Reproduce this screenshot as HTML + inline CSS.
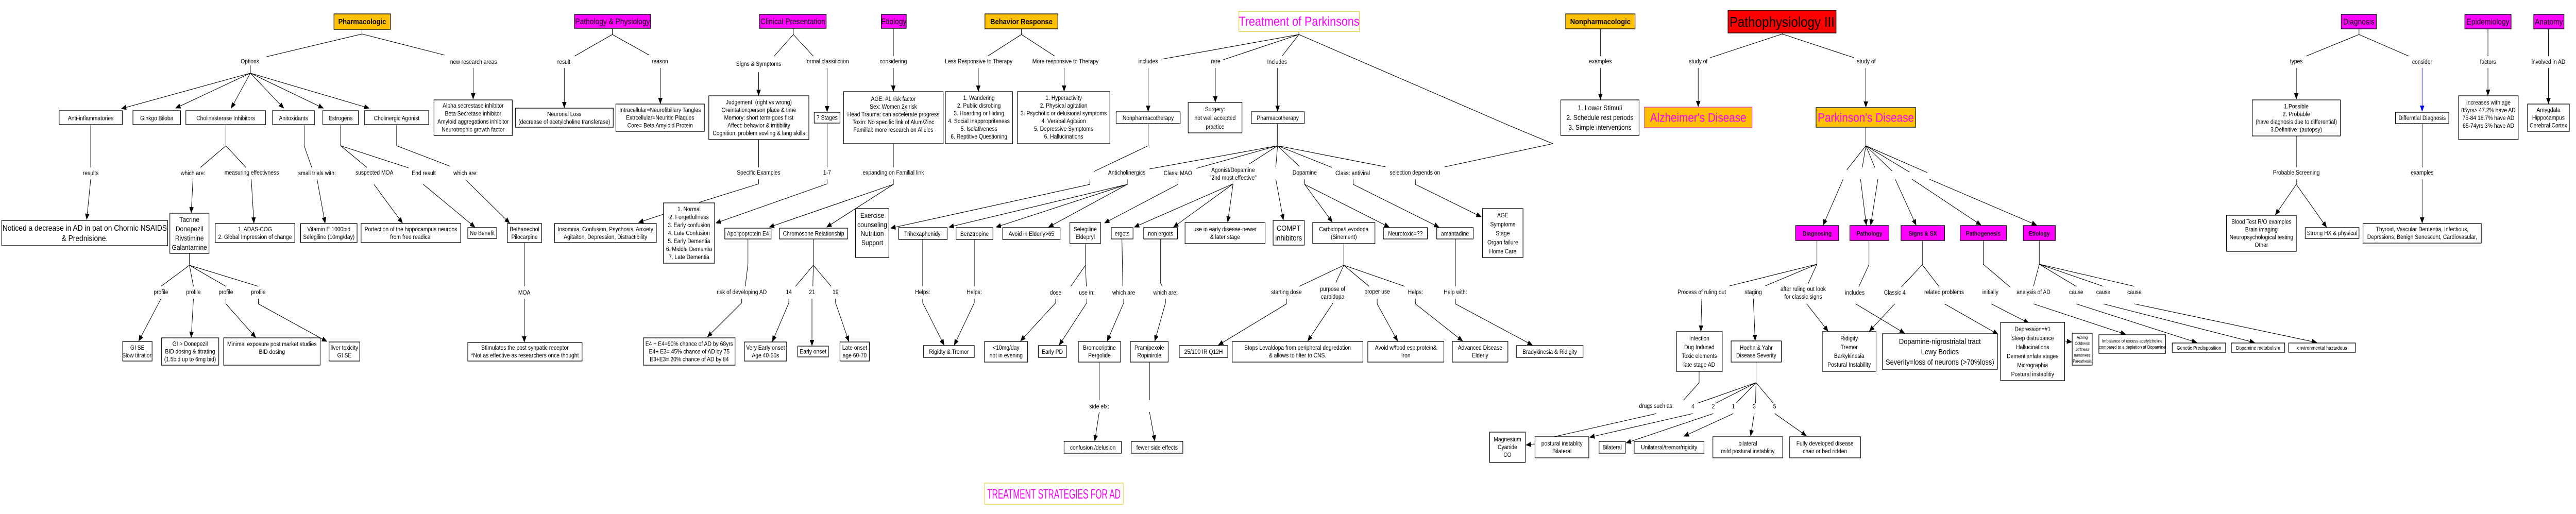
<!DOCTYPE html>
<html><head><meta charset="utf-8">
<style>
html,body{margin:0;padding:0;background:#fff;width:100%;height:100%;overflow:hidden;}
svg{display:block;position:fixed;left:0;top:0;width:100vw;height:100vh;}
text{font-family:"Liberation Sans",Arial,sans-serif;font-size:12px;text-anchor:middle;fill:#000;}
.b{fill:#fff;stroke:#000;stroke-width:1.3;}
.y{fill:#FFC000;stroke:#000;stroke-width:1.3;}
.m{fill:#FF00FF;stroke:#000;stroke-width:1.3;}
.l{fill:none;stroke:#000;stroke-width:1.1;}
.a{fill:none;stroke:#000;stroke-width:1.1;marker-end:url(#ar);}
.lab{font-size:12px;}
</style></head><body>
<svg viewBox="0 0 5793 998" preserveAspectRatio="none" xmlns="http://www.w3.org/2000/svg" overflow="hidden">
<defs>
<marker id="ar" markerWidth="12" markerHeight="10" refX="11" refY="5" orient="auto" markerUnits="userSpaceOnUse"><path d="M0,0 L12,5 L0,10z" fill="#000"/></marker>
<marker id="ab" markerWidth="12" markerHeight="10" refX="11" refY="5" orient="auto" markerUnits="userSpaceOnUse"><path d="M0,0 L12,5 L0,10z" fill="#0000ff"/></marker>
</defs>
<rect width="5793" height="998" fill="#fff"/>

<g>
<path class="l" d="M814,57V66L600,110M814,66L1000,107"/>
<path class="l" d="M563,127V142"/>
<path class="a" d="M563,142L273,211"/><path class="a" d="M563,142L395,210"/><path class="a" d="M563,142L520,210"/><path class="a" d="M563,142L638,210"/><path class="a" d="M563,142L727,210"/><path class="a" d="M563,142L830,210"/>
<path class="a" d="M1064,132V192"/>
<path class="l" d="M204,243V325"/><path class="a" d="M204,348L195,426"/>
<path class="l" d="M508,243V283L451,325M508,283L553,325"/>
<path class="a" d="M434,348L430,413"/><path class="a" d="M565,348L571,433"/>
<path class="l" d="M684,243V283L701,325"/><path class="a" d="M713,348L731,433"/>
<path class="l" d="M766,243V283L825,325M766,283L919,326"/>
<path class="a" d="M841,358L905,433"/><path class="a" d="M952,358L1068,441"/>
<path class="l" d="M892,243V283L1013,323"/><path class="a" d="M1047,349L1146,433"/>
<path class="l" d="M1179,471V556"/><path class="a" d="M1179,580V664"/>
<path class="l" d="M426,492V515L362,556M426,515L435,556M426,515L508,556M426,515L581,556"/>
<path class="a" d="M362,580L312,662"/><path class="a" d="M435,580L430,655"/><path class="a" d="M508,580V590L575,655"/><path class="a" d="M581,580V590L735,663"/>
<path class="a" d="M1492,416L1436,432"/>
<path class="l" d="M1377,55V67L1292,109M1377,67L1460,107"/>
<path class="a" d="M1269,132V209"/><path class="a" d="M1485,132V201"/>
<path class="l" d="M1784,55V67L1741,109M1784,67L1829,109"/>
<path class="a" d="M1706,140V185"/><path class="a" d="M1860,132V217"/>
<path class="l" d="M1706,271V325M1706,348V357L1572,393"/>
<path class="l" d="M1860,240V325"/><path class="a" d="M1860,348V357L1610,433"/>
<path class="l" d="M2009,55V109"/><path class="a" d="M2009,132V177"/>
<path class="l" d="M2009,279V325"/><path class="a" d="M2009,348V358L1730,441"/><path class="a" d="M2009,358L1859,441"/>
<path class="l" d="M2297,56V67L2221,109M2297,67L2372,109"/>
<path class="a" d="M2200,132V177"/><path class="a" d="M2393,132V177"/>
<path class="l" d="M1682,464V512L1676,556"/><path class="a" d="M1668,580V588L1591,654"/>
<path class="l" d="M1829,464V515L1789,556M1829,515L1828,556M1829,515L1869,556"/>
<path class="a" d="M1774,580V588L1737,663"/><path class="a" d="M1826,580V671"/><path class="a" d="M1879,580V588L1909,663"/>
<path class="a" d="M2535,348V358L2134,441"/><path class="a" d="M2535,358L2240,441"/><path class="a" d="M2535,358L2358,441"/>
<path class="l" d="M2582,240V283L2460,333"/><path class="a" d="M2451,348V358L2003,443"/>
<path class="l" d="M2921,61V67L2612,115M2921,67L2751,116M2921,67L2884,108M2921,67L3400,246L3492,279L3249,324"/>
<path class="a" d="M2582,132V216"/><path class="a" d="M2733,132V198"/><path class="a" d="M2873,132V216"/>
<path class="l" d="M2873,240V283L2585,328M2873,283L2690,327M2873,283L2810,318M2873,283L2869,325M2873,283L2922,323M2873,283L2995,325M2873,283L3116,324"/>
<path class="a" d="M2649,348V358L2484,433"/>
<path class="a" d="M2773,357L2551,441"/><path class="a" d="M2773,357L2639,441"/><path class="a" d="M2773,357L2761,431"/>
<path class="a" d="M2869,348L2886,427"/>
<path class="a" d="M2934,348V358L2996,431"/><path class="a" d="M2934,358L3124,441"/>
<path class="a" d="M3043,348V358L3236,441"/><path class="a" d="M3183,348V358L3331,421"/>
<path class="l" d="M2075,465V556"/><path class="a" d="M2075,580V588L2123,670"/>
<path class="l" d="M2191,465V556"/><path class="a" d="M2191,580V588L2146,670"/>
<path class="l" d="M2441,473V515L2408,556M2441,515L2443,556"/>
<path class="a" d="M2374,580V588L2295,662"/><path class="a" d="M2444,580V588L2382,670"/>
<path class="l" d="M2523,464L2525,556"/><path class="a" d="M2527,580V588L2490,662"/>
<path class="l" d="M2610,464V550L2614,556"/><path class="a" d="M2621,580V588L2597,662"/>
<path class="l" d="M2472,703V777"/><path class="a" d="M2472,800L2462,856"/>
<path class="l" d="M2585,703V777"/><path class="a" d="M2585,800L2597,856"/>
<path class="l" d="M3022,473V515L2922,556M3022,515L3004,549M3022,515L3079,556M3022,515L3159,556"/>
<path class="a" d="M2893,580V590L2740,670"/><path class="a" d="M2998,588L2941,662"/><path class="a" d="M3097,580V590L3143,662"/><path class="a" d="M3183,580V590L3289,662"/>
<path class="l" d="M3273,464V556"/><path class="a" d="M3273,580V590L3446,670"/>
<path class="l" d="M4008,64V66L3846,112M4008,66L4169,112"/>
<path class="a" d="M3819,132V207"/><path class="a" d="M4196,132V208"/>
<path class="l" d="M3599,56V109"/><path class="a" d="M3599,132V193"/>
<path class="l" d="M4196,247V283L4153,330M4196,283L4188,325M4196,283L4216,325M4196,283L4255,332M4196,283L4294,334M4196,283L4334,335"/>
<path class="a" d="M4145,348L4100,437"/><path class="a" d="M4184,348L4197,437"/><path class="a" d="M4223,348L4207,437"/><path class="a" d="M4262,348L4309,437"/><path class="a" d="M4300,348L4455,437"/><path class="a" d="M4339,348L4580,437"/>
<path class="l" d="M4086,467V513L3890,555M4086,513L3970,555M4086,513L4066,551"/>
<path class="a" d="M3827,580L3825,643"/><path class="a" d="M3943,580L3947,661"/><path class="a" d="M4063,590L4111,643"/>
<path class="l" d="M4203,468V514L4180,557"/><path class="a" d="M4173,590L4283,647"/>
<path class="l" d="M4323,468V514L4276,557M4323,514L4361,557"/>
<path class="a" d="M4261,590L4204,643"/><path class="a" d="M4373,590L4493,649"/>
<path class="l" d="M4460,467V513L4520,557"/><path class="a" d="M4478,590L4562,627"/>
<path class="l" d="M4586,467V513L4573,556M4586,513L4669,556M4586,513L4730,556M4586,513L4800,556"/>
<path class="a" d="M4573,590L4780,649"/><path class="a" d="M4669,590L4940,665"/><path class="a" d="M4730,590L5070,665"/><path class="a" d="M4800,590L5210,665"/>
<path class="a" d="M4643,662L4659,664"/>
<path class="l" d="M3949,703V743L3817,783M3949,743L3858,783M3949,743L3904,783M3949,743L3948,783M3949,743L3988,783"/>
<path class="a" d="M3807,803L3575,849"/><path class="a" d="M3853,803L3657,860"/><path class="a" d="M3898,803L3787,847"/><path class="a" d="M3945,803L3937,846"/><path class="a" d="M3991,803L4062,846"/>
<path class="l" d="M3821,721V743L3786,777"/><path class="l" d="M3725,803L3495,848"/><path class="a" d="M3452,862L3432,864"/>
<path class="l" d="M5305,56V67L5186,109M5305,67L5417,109"/>
<path class="a" d="M5164,132V192"/>
<path d="M5447,132V216" fill="none" stroke="#0000ff" stroke-width="1.1" marker-end="url(#ab)"/>
<path class="l" d="M5164,264V325"/><path class="a" d="M5164,348V358L5117,417"/><path class="a" d="M5164,358L5232,441"/>
<path class="l" d="M5447,240V325"/><path class="a" d="M5447,348V433"/>
<path class="l" d="M5595,56V109"/><path class="a" d="M5595,132V185"/>
<path class="l" d="M5731,56V109"/><path class="a" d="M5731,132V201"/>
</g>

<g class="lab">
<text x="562" y="123">Options</text><text x="1065" y="124">new research areas</text>
<text x="204" y="340">results</text><text x="434" y="340">which are:</text><text x="566" y="339">measuring effectivness</text>
<text x="713" y="340">small trials with:</text><text x="842" y="339">suspected MOA</text><text x="953" y="340">End result</text>
<text x="1047" y="340">which are:</text><text x="1179" y="572">MOA</text>
<text x="362" y="571">profile</text><text x="435" y="571">profile</text><text x="508" y="571">profile</text><text x="581" y="571">profile</text>
<text x="1268" y="124">result</text><text x="1484" y="123">reason</text>
<text x="1706" y="128">Signs &amp; Symptoms</text><text x="1860" y="123">formal classifiction</text><text x="2009" y="123">considering</text>
<text x="1706" y="339">Specific Examples</text><text x="1860" y="339">1-7</text><text x="2009" y="339">expanding on Familial link</text>
<text x="2201" y="123">Less Responsive to Therapy</text><text x="2396" y="123">More responsive to Therapy</text>
<text x="1668" y="571">risk of developing AD</text><text x="1774" y="571">14</text><text x="1826" y="571">21</text><text x="1879" y="571">19</text>
<text x="2075" y="571">Helps:</text><text x="2191" y="571">Helps:</text><text x="2374" y="572">dose</text><text x="2444" y="572">use in:</text>
<text x="2527" y="572">which are</text><text x="2621" y="572">which are:</text><text x="2472" y="793">side efx:</text>
<text x="2582" y="123">includes</text><text x="2734" y="123">rare</text><text x="2872" y="124">Includes</text>
<text x="2534" y="339">Anticholinergics</text><text x="2649" y="340">Class: MAO</text>
<text x="2773" y="334">Agonist/Dopamine</text><text x="2773" y="349">"2nd most effective"</text>
<text x="2934" y="339">Dopamine</text><text x="3042" y="340">Class: antiviral</text><text x="3182" y="339">selection depends on</text>
<text x="2893" y="571">starting dose</text><text x="2997" y="565">purpose of</text><text x="2997" y="580">carbidopa</text>
<text x="3097" y="570">proper use</text><text x="3183" y="571">Helps:</text><text x="3273" y="571">Help with:</text>
<text x="3599" y="123">examples</text><text x="3819" y="123">study of</text><text x="4197" y="123">study of</text>
<text x="3827" y="571">Process of ruling out</text><text x="3943" y="571">staging</text>
<text x="4055" y="565">after ruling out look</text><text x="4055" y="580">for classic signs</text>
<text x="4171" y="572">includes</text><text x="4261" y="572">Classic 4</text><text x="4372" y="571">related problems</text>
<text x="4476" y="571">initially</text><text x="4573" y="571">analysis of AD</text><text x="4669" y="571">cause</text><text x="4730" y="571">cause</text><text x="4800" y="571">cause</text>
<text x="3725" y="792">drugs such as:</text><text x="3807" y="793">4</text><text x="3853" y="793">2</text><text x="3898" y="793">1</text><text x="3945" y="793">3</text><text x="3991" y="793">5</text>
<text x="5164" y="123">types</text><text x="5447" y="124">consider</text><text x="5164" y="339">Probable Screening</text><text x="5447" y="339">examples</text>
<text x="5595" y="124">factors</text><text x="5731" y="124">involved in AD</text>
</g>

<rect class="y" x="751" y="27" width="127" height="30"/><text x="814.5" y="47" style="font-size:15px;font-weight:bold">Pharmacologic</text>
<g style="font-size:14px">
<rect class="b" x="133" y="215" width="142" height="27"/><text x="204" y="233.5">Anti-inflammatories</text>
<rect class="b" x="299" y="215" width="107" height="27"/><text x="352.5" y="233.5">Ginkgo Biloba</text>
<rect class="b" x="418" y="215" width="179" height="27"/><text x="507.5" y="233.5">Cholinesterase Inhibitors</text>
<rect class="b" x="613" y="215" width="94" height="27"/><text x="660" y="233.5">Anitoxidants</text>
<rect class="b" x="726" y="215" width="80" height="27"/><text x="766" y="233.5">Estrogens</text>
<rect class="b" x="820" y="215" width="144" height="27"/><text x="892" y="233.5">Cholinergic Agonist</text>
</g>
<rect class="b" x="4" y="428" width="373" height="49"/><text style="font-size:16px"><tspan x="190.5" y="448">Noticed a decrease in AD in pat on Chornic NSAIDS</tspan><tspan x="190.5" y="468">&amp; Prednisione.</tspan></text>
<rect class="b" x="382" y="414" width="88" height="78"/><text style="font-size:14px"><tspan x="426" y="431">Tacrine</tspan><tspan x="426" y="449">Donepezil</tspan><tspan x="426" y="467">Rivstimine</tspan><tspan x="426" y="485">Galantamine</tspan></text>
<g style="font-size:11px">
<rect class="b" x="484" y="434" width="179" height="37"/><text><tspan x="573.5" y="449">1. ADAS-COG</tspan><tspan x="573.5" y="464">2. Global Impression of change</tspan></text>
<rect class="b" x="676" y="434" width="127" height="37"/><text><tspan x="739.5" y="449">Vitamin E 1000bid</tspan><tspan x="739.5" y="464">Selegiline (10mg/day)</tspan></text>
<rect class="b" x="812" y="434" width="224" height="37"/><text><tspan x="924" y="449">Portection of the hippocampus neurons</tspan><tspan x="924" y="464">from free readical</tspan></text>
<rect class="b" x="1052" y="442" width="65" height="21"/><text x="1084.5" y="456.5">No Benefit</text>
<rect class="b" x="1141" y="434" width="77" height="37"/><text><tspan x="1179.5" y="449">Bethanechol</tspan><tspan x="1179.5" y="464">Pilocarpine</tspan></text>
<rect class="b" x="1247" y="434" width="229" height="37"/><text><tspan x="1361.5" y="449">Insomnia, Confusion, Psychosis, Anxiety</tspan><tspan x="1361.5" y="464">Agitaiton, Depression, Distractibility</tspan></text>
<rect class="b" x="1492" y="394" width="115" height="117"/><text style="font-size:12px"><tspan x="1549.5" y="410">1. Normal</tspan><tspan x="1549.5" y="425.5">2. Forgetfullness</tspan><tspan x="1549.5" y="441">3. Early confusion</tspan><tspan x="1549.5" y="456.5">4. Late Confusion</tspan><tspan x="1549.5" y="472">5. Early Dementia</tspan><tspan x="1549.5" y="487.5">6. Middle Dementia</tspan><tspan x="1549.5" y="503">7. Late Dementia</tspan></text>
<rect class="b" x="976" y="194" width="176" height="69"/><text><tspan x="1064" y="209">Alpha secrestase inhibitor</tspan><tspan x="1064" y="224.5">Beta Secretase inhibitor</tspan><tspan x="1064" y="240">Amyloid aggregations inhibitor</tspan><tspan x="1064" y="255.5">Neurotrophic growth factor</tspan></text>
<rect class="b" x="1159" y="210" width="220" height="37"/><text style="font-size:12px"><tspan x="1269" y="225.5">Neuronal Loss</tspan><tspan x="1269" y="240.5">(decrease of acetylcholine transferase)</tspan></text>
<rect class="b" x="1385" y="202" width="199" height="53"/><text><tspan x="1484.5" y="217.5">Intracellular=Neurofibillary Tangles</tspan><tspan x="1484.5" y="232.5">Extrcellular=Neuritic Plaques</tspan><tspan x="1484.5" y="247.5">Core= Beta Amyloid Protein</tspan></text>
<rect class="b" x="1594" y="186" width="225" height="85"/><text><tspan x="1706.5" y="202.5">Judgement: (right vs wrong)</tspan><tspan x="1706.5" y="217.5">Oreintation:person place &amp; time</tspan><tspan x="1706.5" y="232.5">Memory: short term goes first</tspan><tspan x="1706.5" y="247.5">Affect: behavior &amp; irritibility</tspan><tspan x="1706.5" y="262.5">Cognition: problem sovling &amp; lang skills</tspan></text>
<rect class="b" x="1897" y="178" width="224" height="101"/><text><tspan x="2009" y="196">AGE: #1 risk factor</tspan><tspan x="2009" y="211">Sex: Women 2x risk</tspan><tspan x="2009" y="226">Head Trauma: can accelerate progress</tspan><tspan x="2009" y="241">Toxin: No specific link of Alum/Zinc</tspan><tspan x="2009" y="256">Familial: more research on Alleles</tspan></text>
<rect class="b" x="2126" y="178" width="151" height="101"/><text><tspan x="2201.5" y="194">1. Wandering</tspan><tspan x="2201.5" y="209">2. Public disrobing</tspan><tspan x="2201.5" y="224">3. Hoarding or Hiding</tspan><tspan x="2201.5" y="239">4. Social Inappropriteness</tspan><tspan x="2201.5" y="254">5. Isolativeness</tspan><tspan x="2201.5" y="269">6. Reptitive Questioning</tspan></text>
<rect class="b" x="2288" y="178" width="208" height="101"/><text><tspan x="2392" y="194">1. Hyperactivity</tspan><tspan x="2392" y="209">2. Physical agitation</tspan><tspan x="2392" y="224">3. Psychotic or delusional symptoms</tspan><tspan x="2392" y="239">4. Verabal Agitaion</tspan><tspan x="2392" y="254">5. Depressive Symptoms</tspan><tspan x="2392" y="269">6. Hallucinations</tspan></text>
<rect class="b" x="276" y="663" width="66" height="38"/><text><tspan x="309" y="679">GI SE</tspan><tspan x="309" y="694">Slow titration</tspan></text>
<rect class="b" x="363" y="656" width="129" height="53"/><text><tspan x="427.5" y="671.5">GI &gt; Donepezil</tspan><tspan x="427.5" y="686.5">BID dosing &amp; titrating</tspan><tspan x="427.5" y="701.5">(1.5bid up to 6mg bid)</tspan></text>
<rect class="b" x="503" y="656" width="217" height="53"/><text><tspan x="611.5" y="672">Minimal exposure post market studies</tspan><tspan x="611.5" y="687">BID dosing</tspan></text>
<rect class="b" x="740" y="664" width="69" height="37"/><text><tspan x="774.5" y="679">liver toxicity</tspan><tspan x="774.5" y="694">GI SE</tspan></text>
<rect class="b" x="1052" y="665" width="257" height="36"/><text><tspan x="1180.5" y="679">Stimulates the post synpatic receptor</tspan><tspan x="1180.5" y="694">*Not as effective as researchers once thought</tspan></text>
<rect class="b" x="1447" y="656" width="206" height="53"/><text><tspan x="1550" y="671.5">E4 + E4=90% chance of AD by 68yrs</tspan><tspan x="1550" y="686.5">E4+ E3= 45% chance of AD by 75</tspan><tspan x="1550" y="701.5">E3+E3= 20% chance of AD by 84</tspan></text>
<rect class="b" x="1674" y="664" width="95" height="37"/><text style="font-size:12px"><tspan x="1721.5" y="679">Very Early onset</tspan><tspan x="1721.5" y="694">Age 40-50s</tspan></text>
<rect class="b" x="1794" y="672" width="69" height="21"/><text x="1828.5" y="686.5" style="font-size:12px">Early onset</text>
<rect class="b" x="1889" y="664" width="66" height="37"/><text style="font-size:12px"><tspan x="1922" y="679">Late onset</tspan><tspan x="1922" y="694">age 60-70</tspan></text>
</g>
<rect class="m" x="1292" y="28" width="171" height="27"/><text x="1377.5" y="47" style="font-size:16px">Pathology &amp; Physiology</text>
<rect class="m" x="1708" y="28" width="150" height="27"/><text x="1783" y="47" style="font-size:16px">Clinical Presentation</text>
<rect class="m" x="1982" y="28" width="56" height="27"/><text x="2010" y="47" style="font-size:16px">Etiology</text>
<rect class="y" x="2215" y="27" width="164" height="29"/><text x="2297" y="47" style="font-size:15px;font-weight:bold">Behavior Response</text>
<rect class="b" x="1831" y="218" width="58" height="21"/><text x="1860" y="232.5">7 Stages</text>
<rect class="b" x="1630" y="443" width="104" height="21"/><text x="1682" y="457.5">Apolipoprotein E4</text>
<rect class="b" x="1753" y="443" width="153" height="21"/><text x="1829.5" y="457.5">Chromosone Relationship</text>
<rect class="b" x="1924" y="405" width="75" height="95"/><text style="font-size:14px"><tspan x="1961.5" y="423">Exercise</tspan><tspan x="1961.5" y="441">counseling</tspan><tspan x="1961.5" y="458">Nutrition</tspan><tspan x="1961.5" y="476">Support</tspan></text>
<g style="font-size:13px">
<rect class="b" x="2021" y="442" width="109" height="23"/><text x="2075.5" y="458">Trihexaphenidyl</text>
<rect class="b" x="2150" y="442" width="83" height="23"/><text x="2191.5" y="458">Benztropine</text>
<rect class="b" x="2255" y="442" width="129" height="23"/><text x="2319.5" y="458">Avoid in Elderly&gt;65</text>
<rect class="b" x="2406" y="432" width="69" height="41"/><text style="font-size:12px"><tspan x="2440.5" y="449">Selegiline</tspan><tspan x="2440.5" y="464">Eldepryl</tspan></text>
<rect class="b" x="2499" y="442" width="49" height="22"/><text x="2523.5" y="457.5">ergots</text>
<rect class="b" x="2572" y="442" width="76" height="22"/><text x="2610" y="457.5">non ergots</text>
<rect class="b" x="2665" y="432" width="180" height="41"/><text style="font-size:12px"><tspan x="2755" y="449">use in early disease-newer</tspan><tspan x="2755" y="464">&amp; later stage</tspan></text>
<rect class="b" x="2863" y="428" width="70" height="48"/><text style="font-size:15px"><tspan x="2898" y="448">COMPT</tspan><tspan x="2898" y="467">inhibitors</tspan></text>
<rect class="b" x="2952" y="432" width="140" height="41"/><text style="font-size:12px"><tspan x="3022" y="449">Carbidopa/Levodopa</tspan><tspan x="3022" y="464">(Sinement)</tspan></text>
<rect class="b" x="3111" y="442" width="99" height="22"/><text x="3160.5" y="457.5">Neurotoxic=??</text>
<rect class="b" x="3231" y="442" width="82" height="22"/><text x="3272" y="457.5">amantadine</text>
<rect class="b" x="3334" y="405" width="91" height="95"/><text><tspan x="3379.5" y="422">AGE</tspan><tspan x="3379.5" y="439.5">Symptoms</tspan><tspan x="3379.5" y="457">Stage</tspan><tspan x="3379.5" y="474.5">Organ failure</tspan><tspan x="3379.5" y="492">Home Care</tspan></text>
<rect class="b" x="2510" y="217" width="144" height="23"/><text x="2582" y="233">Nonpharmacotherapy</text>
<rect class="b" x="2672" y="199" width="121" height="59"/><text><tspan x="2732.5" y="216">Surgery:</tspan><tspan x="2732.5" y="233">not well accepted</tspan><tspan x="2732.5" y="250">practice</tspan></text>
<rect class="b" x="2814" y="217" width="119" height="23"/><text x="2873.5" y="233">Pharmacotherapy</text>
<rect class="b" x="2077" y="671" width="114" height="23"/><text x="2134" y="687">Rigidty &amp; Tremor</text>
<rect class="b" x="2335" y="671" width="63" height="23"/><text x="2366.5" y="687">Early PD</text>
<rect class="b" x="2652" y="671" width="109" height="23"/><text x="2706.5" y="687">25/100 IR Q12H</text>
</g>
<g style="font-size:12px">
<rect class="b" x="2214" y="663" width="97" height="40"/><text><tspan x="2262.5" y="679">&lt;10mg/day</tspan><tspan x="2262.5" y="694">not in evening</tspan></text>
<rect class="b" x="2425" y="663" width="95" height="40"/><text><tspan x="2472.5" y="679">Bromocriptine</tspan><tspan x="2472.5" y="694">Pergolide</tspan></text>
<rect class="b" x="2542" y="663" width="85" height="40"/><text><tspan x="2584.5" y="679">Pramipexole</tspan><tspan x="2584.5" y="694">Ropinirole</tspan></text>
<rect class="b" x="2393" y="857" width="129" height="23"/><text x="2457.5" y="873">confusion /delusion</text>
<rect class="b" x="2544" y="857" width="116" height="23"/><text x="2602" y="873">fewer side effects</text>
<rect class="b" x="2771" y="663" width="294" height="40"/><text><tspan x="2918" y="679">Stops Levaldopa from peripheral degredation</tspan><tspan x="2918" y="694">&amp; allows to filter to CNS.</tspan></text>
<rect class="b" x="3076" y="663" width="171" height="40"/><text><tspan x="3161.5" y="679">Avoid w/food esp:protein&amp;</tspan><tspan x="3161.5" y="694">Iron</tspan></text>
<rect class="b" x="3266" y="663" width="125" height="40"/><text><tspan x="3328.5" y="679">Advanced Disease</tspan><tspan x="3328.5" y="694">Elderly</tspan></text>
<rect class="b" x="3410" y="671" width="150" height="23"/><text x="3485" y="687">Bradykinesia &amp; Ridigity</text>
<rect class="b" x="3350" y="839" width="80" height="59"/><text><tspan x="3390" y="857">Magnesium</tspan><tspan x="3390" y="872">Cyanide</tspan><tspan x="3390" y="887">CO</tspan></text>
<rect class="b" x="3452" y="848" width="121" height="41"/><text><tspan x="3512.5" y="865">postural instablity</tspan><tspan x="3512.5" y="880">Bilateral</tspan></text>
<rect class="b" x="3596" y="857" width="59" height="23"/><text x="3625.5" y="872.5">Bilateral</text>
<rect class="b" x="3675" y="857" width="157" height="23"/><text x="3753.5" y="872.5">Unilateral/tremor/rigidity</text>
<rect class="b" x="3852" y="848" width="157" height="41"/><text><tspan x="3930.5" y="865">bilateral</tspan><tspan x="3930.5" y="880">mild  postural instablitiy</tspan></text>
<rect class="b" x="4024" y="848" width="160" height="41"/><text><tspan x="4104" y="865">Fully developed disease</tspan><tspan x="4104" y="880">chair or bed ridden</tspan></text>
<rect class="b" x="3770" y="644" width="103" height="77"/><text><tspan x="3821.5" y="661">Infection</tspan><tspan x="3821.5" y="678">Dug Induced</tspan><tspan x="3821.5" y="695">Toxic elements</tspan><tspan x="3821.5" y="712">late stage AD</tspan></text>
<rect class="b" x="3893" y="662" width="113" height="41"/><text><tspan x="3949.5" y="679">Hoehn &amp; Yahr</tspan><tspan x="3949.5" y="694">Disease Severity</tspan></text>
<rect class="b" x="4098" y="644" width="121" height="77"/><text><tspan x="4158.5" y="661">Ridigity</tspan><tspan x="4158.5" y="678">Tremor</tspan><tspan x="4158.5" y="695">Barkykinesia</tspan><tspan x="4158.5" y="712">Postural Instability</tspan></text>
<rect class="b" x="4499" y="626" width="144" height="113"/><text><tspan x="4571" y="643">Depression=#1</tspan><tspan x="4571" y="660.5">Sleep distrubance</tspan><tspan x="4571" y="678">Hallucinations</tspan><tspan x="4571" y="695.5">Dementia=late stages</tspan><tspan x="4571" y="713">Micrographia</tspan><tspan x="4571" y="730.5">Postural instablitiy</tspan></text>
</g>
<rect class="b" x="4233" y="648" width="259" height="69"/><text style="font-size:15px"><tspan x="4362.5" y="668">Dopamine-nigrostriatal tract</tspan><tspan x="4362.5" y="688">Lewy Bodies</tspan><tspan x="4362.5" y="708">Severity=loss of neurons (&gt;70%loss)</tspan></text>
<rect class="b" x="4660" y="647" width="45" height="62"/><text style="font-size:8px"><tspan x="4682.5" y="658">Aching</tspan><tspan x="4682.5" y="669.5">Coldness</tspan><tspan x="4682.5" y="681">Stiffness</tspan><tspan x="4682.5" y="692.5">numbness</tspan><tspan x="4682.5" y="704">Paresthesia</tspan></text>
<rect class="b" x="4720" y="650" width="150" height="36"/><text style="font-size:9px"><tspan x="4795" y="665">Imbalance of excess acetylcholine</tspan><tspan x="4795" y="677">compared to a depletion of Dopamine</tspan></text>
<rect class="b" x="4885" y="666" width="120" height="18"/><text x="4945" y="679" style="font-size:10px">Genetic Predisposition</text>
<rect class="b" x="5018" y="666" width="120" height="18"/><text x="5078" y="679" style="font-size:10px">Dopamine metabolism</text>
<rect class="b" x="5147" y="666" width="150" height="18"/><text x="5222" y="679" style="font-size:10px">environmental hazardous</text>

<rect x="2786" y="22" width="271" height="39" fill="#fff" stroke="#e6d34a" stroke-width="1.5"/><text x="2921.5" y="50" style="font-size:25px;fill:#ff00ff">Treatment of Parkinsons</text>
<rect x="3886" y="20" width="243" height="44" fill="#ff0000" stroke="#000" stroke-width="1.3"/><text x="4007.5" y="52" style="font-size:28px">Pathophysiology III</text>
<rect class="y" x="3521" y="27" width="156" height="29"/><text x="3599" y="47" style="font-size:15px;font-weight:bold">Nonpharmacologic</text>
<rect class="b" x="3510" y="194" width="176" height="69"/><text style="font-size:14px"><tspan x="3598" y="214">1. Lower Stimuli</tspan><tspan x="3598" y="233">2. Schedule rest periods</tspan><tspan x="3598" y="252">3. Simple interventions</tspan></text>
<rect x="3698" y="208" width="242" height="40" fill="#FFC000" stroke="#e040c0" stroke-width="1.3"/><text x="3819" y="236.5" style="font-size:24px;fill:#ff00ff">Alzheimer's Disease</text>
<rect class="y" x="4084" y="209" width="224" height="38"/><text x="4196" y="236.5" style="font-size:24px;fill:#ff00ff">Parkinson's Disease</text>
<g style="font-size:14px;font-weight:bold">
<rect class="m" x="4038" y="438" width="97" height="29"/><text x="4086.5" y="457.5">Diagnosing</text>
<rect class="m" x="4160" y="438" width="88" height="29"/><text x="4204" y="457.5">Pathology</text>
<rect class="m" x="4275" y="438" width="98" height="29"/><text x="4324" y="457.5">Signs &amp; SX</text>
<rect class="m" x="4408" y="438" width="104" height="29"/><text x="4460" y="457.5">Pathogenesis</text>
<rect class="m" x="4550" y="438" width="72" height="29"/><text x="4586" y="457.5">Etiology</text>
</g>
<rect class="m" x="5265" y="28" width="79" height="28"/><text x="5304.5" y="47.6" style="font-size:16px">Diagnosis</text>
<rect class="m" x="5543" y="28" width="104" height="28"/><text x="5595" y="47.6" style="font-size:16px">Epidemiology</text>
<rect class="m" x="5698" y="28" width="68" height="28"/><text x="5732" y="47.6" style="font-size:16px">Anatomy</text>
<g style="font-size:11.5px">
<rect class="b" x="5065" y="194" width="198" height="70"/><text><tspan x="5164" y="210.5">1.Possible</tspan><tspan x="5164" y="225.5">2. Probable</tspan><tspan x="5164" y="240.5">(have diagnosis due to differential)</tspan><tspan x="5164" y="255.5">3.Definitive :(autopsy)</tspan></text>
<rect class="b" x="5387" y="218" width="120" height="22"/><text x="5447" y="233">Differntial Diagnosis</text>
<rect class="b" x="5007" y="418" width="157" height="70"/><text><tspan x="5085.5" y="434.5">Blood Test R/O examples</tspan><tspan x="5085.5" y="449.5">Brain imaging</tspan><tspan x="5085.5" y="464.5">Neuropsychological testing</tspan><tspan x="5085.5" y="479.5">Other</tspan></text>
<rect class="b" x="5184" y="442" width="121" height="21"/><text x="5244.5" y="456.5">Strong HX &amp; physical</text>
<rect class="b" x="5314" y="434" width="266" height="38"/><text><tspan x="5447" y="449">Thyroid, Vascular Dementia, Infectious,</tspan><tspan x="5447" y="464">Deprssions, Benign Senescent, Cardiovasular,</tspan></text>
<rect class="b" x="5529" y="186" width="134" height="85"/><text><tspan x="5596" y="203">Increases with age</tspan><tspan x="5596" y="218">85yrs&gt; 47.2% have AD</tspan><tspan x="5596" y="233">75-84   18.7% have AD</tspan><tspan x="5596" y="248">65-74yrs 3% have   AD</tspan></text>
<rect class="b" x="5684" y="202" width="94" height="53"/><text style="font-size:12px"><tspan x="5731" y="217.7">Amygdala</tspan><tspan x="5731" y="232.7">Hippocampus</tspan><tspan x="5731" y="247.7">Cerebral Cortex</tspan></text>
</g>
<rect x="2214" y="938" width="312" height="41" fill="#fff" stroke="#e6d34a" stroke-width="1.3"/><text x="2370" y="968" style="font-size:26px;fill:#ff00ff" textLength="300" lengthAdjust="spacingAndGlyphs">TREATMENT STRATEGIES FOR AD</text>
</svg>
</body></html>
